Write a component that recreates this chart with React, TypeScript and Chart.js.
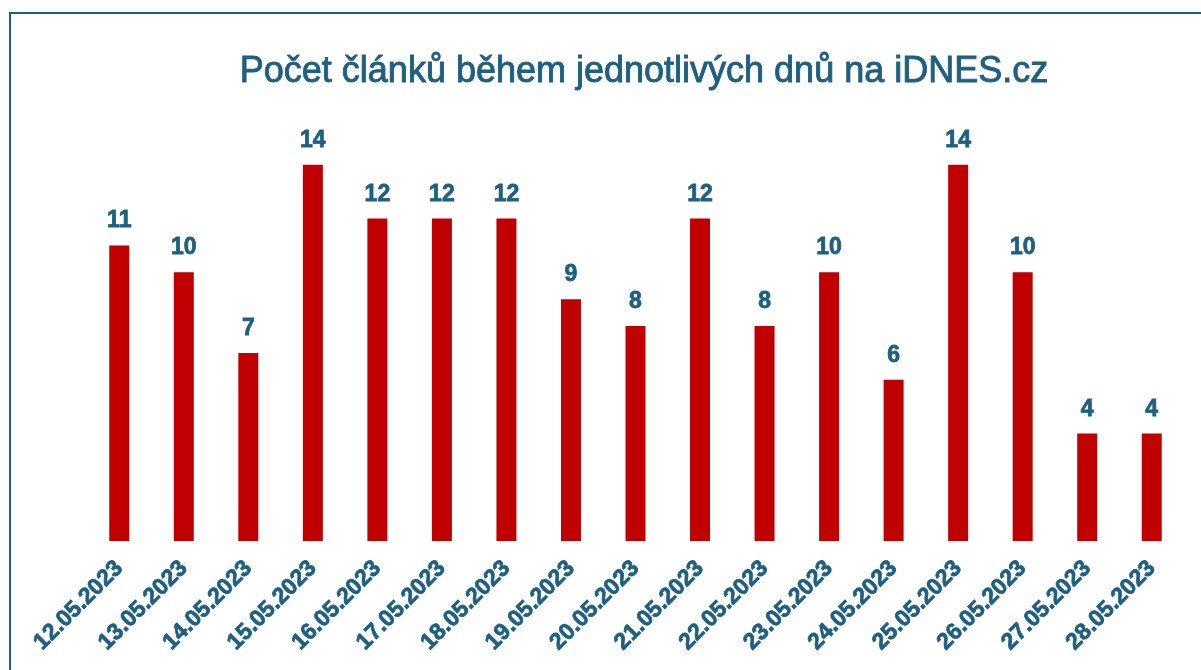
import React, { useEffect, useRef } from "react";
import { Chart, registerables } from "chart.js";

Chart.register(...registerables);

const categories = [
  "12.05.2023", "13.05.2023", "14.05.2023", "15.05.2023", "16.05.2023", "17.05.2023",
  "18.05.2023", "19.05.2023", "20.05.2023", "21.05.2023", "22.05.2023", "23.05.2023",
  "24.05.2023", "25.05.2023", "26.05.2023", "27.05.2023", "28.05.2023",
];
const articleCounts = [11, 10, 7, 14, 12, 12, 12, 9, 8, 12, 8, 10, 6, 14, 10, 4, 4];
const chartTitle = "Počet článků během jednotlivých dnů na iDNES.cz";

const BLUE = "#1F5F7F";
const RED = "#C00000";

const decorPlugin = {
  id: "decor",
  beforeDraw(chart: any) {
    const ctx = chart.ctx;
    ctx.save();
    ctx.fillStyle = "#ffffff";
    ctx.fillRect(0, 0, chart.width, chart.height);
    ctx.strokeStyle = BLUE;
    ctx.lineWidth = 2;
    ctx.strokeRect(10, 13, chart.width + 50, chart.height + 50);
    ctx.fillStyle = BLUE;
    ctx.strokeStyle = BLUE;
    ctx.lineWidth = 0.9;
    ctx.font = "36px 'Liberation Sans', Arial, sans-serif";
    ctx.textAlign = "center";
    ctx.textBaseline = "alphabetic";
    ctx.fillText(chartTitle, 644, 82);
    ctx.strokeText(chartTitle, 644, 82);
    ctx.restore();
  },
  afterDatasetsDraw(chart: any) {
    const ctx = chart.ctx;
    const meta = chart.getDatasetMeta(0);
    ctx.save();
    ctx.fillStyle = BLUE;
    ctx.strokeStyle = BLUE;
    ctx.lineWidth = 0.8;
    ctx.font = "bold 23px 'Liberation Sans', Arial, sans-serif";
    ctx.textAlign = "center";
    ctx.textBaseline = "alphabetic";
    meta.data.forEach((bar: any, i: number) => {
      ctx.fillText(String(articleCounts[i]), bar.x, bar.y - 18);
      ctx.strokeText(String(articleCounts[i]), bar.x, bar.y - 18);
    });
    ctx.restore();
  },
};

export default function App() {
  const ref = useRef<HTMLCanvasElement>(null);
  useEffect(() => {
    if (!ref.current) return;
    const chart = new Chart(ref.current, {
      type: "bar",
      data: {
        labels: categories,
        datasets: [
          {
            data: articleCounts,
            backgroundColor: RED,
            categoryPercentage: 1,
            barPercentage: 0.31,
          },
        ],
      },
      options: {
        animation: false,
        responsive: false,
        maintainAspectRatio: false,
        layout: { padding: { left: 87, right: 17, top: 111, bottom: 0 } },
        plugins: { legend: { display: false }, title: { display: false }, tooltip: { enabled: false } },
        scales: {
          y: { display: false, min: 0, max: 16 },
          x: {
            grid: { display: false },
            border: { display: false },
            afterFit: (scale: any) => {
              scale.height = 129;
            },
            ticks: {
              minRotation: 45,
              maxRotation: 45,
              autoSkip: false,
              color: BLUE,
              textStrokeColor: BLUE,
              textStrokeWidth: 0.8,
              padding: 6,
              font: { family: "'Liberation Sans', Arial, sans-serif", size: 23, weight: "bold" },
            },
          },
        },
      },
      plugins: [decorPlugin],
    });
    return () => chart.destroy();
  }, []);
  return (
    <div style={{ position: "fixed", left: 0, top: 0, width: 1201, height: 670 }}>
      <canvas ref={ref} width={1201} height={670} style={{ display: "block" }} />
    </div>
  );
}
